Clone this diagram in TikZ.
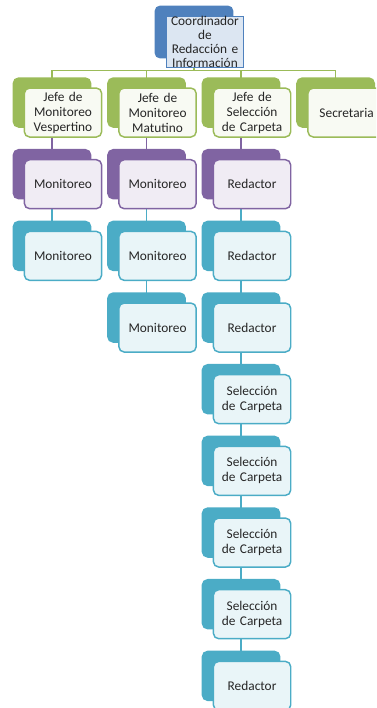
\documentclass[tikz,border=0pt]{standalone}
\usepackage{fontspec}
\setmainfont{Carlito}
\usepackage{tikz}
\usetikzlibrary{positioning,calc,shadows,backgrounds}
\definecolor{topedge}{RGB}{79,129,189}
\definecolor{topfill}{RGB}{220,230,242}
\definecolor{jefeedge}{RGB}{155,187,89}
\colorlet{jefefill}{jefeedge!7!white}
\definecolor{unitedge}{RGB}{128,100,162}
\colorlet{unitfill}{unitedge!12!white}
\definecolor{staffedge}{RGB}{75,172,198}
\colorlet{stafffill}{staffedge!12!white}
\tikzset{
    backcopy/.style={
        copy shadow={shadow xshift=-8.25pt, shadow yshift=7.5pt,
            opacity=1, fill=#1, draw=#1}
    },
    orgbox/.style={
        rectangle, rounded corners=4pt, line width=1.1pt, align=center,
        inner sep=2pt, minimum height=36.75pt, minimum width=57.75pt,
        text width=54pt, text=black!85, font=\fontsize{10}{11.25}\selectfont
    },
    topbox/.style={
        orgbox, rounded corners=0pt, draw=topedge, fill=topfill,
        inner ysep=0pt, font=\fontsize{10}{10.5}\selectfont
    },
    jefebox/.style={orgbox, draw=jefeedge, fill=jefefill, backcopy=jefeedge},
    unitbox/.style={orgbox, draw=unitedge, fill=unitfill, backcopy=unitedge},
    staffbox/.style={orgbox, draw=staffedge, fill=stafffill, backcopy=staffedge},
    link/.style={line width=1.1pt, draw=#1}
}
\begin{document}
\begin{tikzpicture}[node distance=15.9pt and 11.8pt]
    \useasboundingbox (0,0) rectangle (282pt,-531pt);
    \clip (0,0) rectangle (282pt,-531pt);
    % Coordinador
    \node[topbox] (coord) at (153.75pt,-31.5pt)
        {Coordinador\\ de\\ Redacción e\\ Información};
    % Jefes row
    \node[jefebox] (v1) at (47.25pt,-84.4pt) {Jefe de\\ Monitoreo\\ Vespertino};
    \node[jefebox, right=of v1] (m1) {Jefe de\\ Monitoreo\\ Matutino};
    \node[jefebox, right=of m1] (s1) {Jefe de\\ Selección\\ de Carpeta};
    \node[jefebox, right=of s1] (sec) {Secretaria};
    % Monitoreo Vespertino column
    \node[unitbox, below=of v1] (v2) {Monitoreo};
    \node[staffbox, below=of v2] (v3) {Monitoreo};
    % Monitoreo Matutino column
    \node[unitbox, below=of m1] (m2) {Monitoreo};
    \node[staffbox, below=of m2] (m3) {Monitoreo};
    \node[staffbox, below=of m3] (m4) {Monitoreo};
    % Seleccion de Carpeta column
    \node[unitbox, below=of s1] (s2) {Redactor};
    \node[staffbox, below=of s2] (s3) {Redactor};
    \node[staffbox, below=of s3] (s4) {Redactor};
    \node[staffbox, below=of s4] (s5) {Selección\\ de Carpeta};
    \node[staffbox, below=of s5] (s6) {Selección\\ de Carpeta};
    \node[staffbox, below=of s6] (s7) {Selección\\ de Carpeta};
    \node[staffbox, below=of s7] (s8) {Selección\\ de Carpeta};
    \node[staffbox, below=of s8] (s9) {Redactor};
    \begin{scope}[on background layer]
        % back plate of the top box
        \fill[topedge, rounded corners=4pt]
            ([shift={(-8.25pt,7.5pt)}]coord.south west)
            rectangle ([shift={(-8.25pt,7.5pt)}]coord.north east);
        \coordinate (bus) at ([shift={(-8.25pt,-1.5pt)}]coord.south);
        \draw[link=jefeedge] ([xshift=-8.25pt]coord.south) -- (bus);
        \foreach \b in {v1,m1,s1,sec}
            \draw[link=jefeedge] (bus) -| ([xshift=-8.25pt]\b.north);
        \foreach \a/\b in {v1/v2,m1/m2,s1/s2}
            \draw[link=unitedge] ([xshift=-8.25pt]\a.south) -- ([xshift=-8.25pt]\b.north);
        \foreach \a/\b in {v2/v3,m2/m3,m3/m4,s2/s3,s3/s4,s4/s5,s5/s6,s6/s7,s7/s8,s8/s9}
            \draw[link=staffedge] ([xshift=-8.25pt]\a.south) -- ([xshift=-8.25pt]\b.north);
    \end{scope}
\end{tikzpicture}
\end{document}
